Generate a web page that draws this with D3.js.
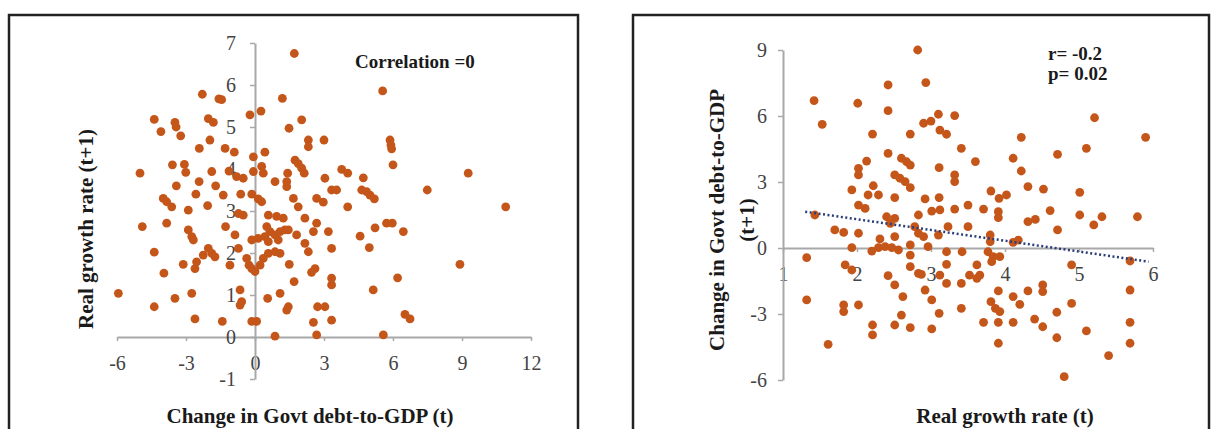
<!DOCTYPE html>
<html>
<head>
<meta charset="utf-8">
<script src="https://cdn.jsdelivr.net/npm/d3@7"></script>
<style>
  html, body { margin: 0; padding: 0; background: #fff; }
  svg { display: block; }
  .tick text { font-family: "Liberation Serif", "Times New Roman", serif; font-size: 20px; fill: #444; }
  .title { font-family: "Liberation Serif", "Times New Roman", serif; font-weight: bold; font-size: 21px; fill: #1a1a1a; }
  .note { font-family: "Liberation Serif", "Times New Roman", serif; font-weight: bold; font-size: 19px; fill: #1a1a1a; }
</style>
</head>
<body>
<svg id="chart" width="1220" height="429"></svg>
<script>
// ---------- Left panel data: change in govt debt-to-GDP (t) vs real growth (t+1)
const leftX = [1.71,-2.29,-1.57,-1.45,1.19,-4.38,-3.48,-3.43,-2.03,-1.81,-0.22,0.26,2.03,1.48,-4.09,-3.23,-1.96,-2.42,-1.30,-0.90,2.32,2.32,3.0,0.43,-0.07,1.74,1.88,-3.59,-3.07,-3.01,-5.0,-1.88,-1.13,-0.80,-0.51,-0.07,0.29,0.36,0.87,1.42,1.38,2.03,2.14,3.04,-3.42,-2.43,-1.71,1.38,3.33,-2.57,-1.38,-0.62,-0.14,0.14,0.29,-3.99,-3.84,-3.62,1.67,1.88,2.68,2.97,-2.9,-2.06,-0.72,-0.51,0.58,0.94,1.23,2.17,2.68,3.19,-4.90,-3.84,-2.90,-2.75,-2.68,-1.28,-0.87,-0.14,0.51,0.65,0.87,1.09,0.43,0.14,0.58,1.01,1.30,1.45,1.81,2.17,2.54,3.33,-4.38,-2.03,-1.88,-1.74,-2.25,-2.54,-3.12,-2.61,-1.09,-0.72,-0.36,-0.26,-0.14,0,0.22,0.36,0.58,0.87,1.09,1.49,2.32,2.61,2.46,-3.96,1.70,-5.94,-3.48,-2.75,-0.65,-0.58,-0.65,0.55,1.09,1.45,1.38,-4.38,-2.61,-1.42,-0.14,0.07,0.87,2.54,2.72,3.04,2.68,3.33,3.33,3.33,5.55,5.87,5.91,5.94,6.0,3.77,4.03,4.71,9.27,3.55,4.64,4.85,5.0,5.19,7.49,4.03,10.9,5.22,5.72,5.97,6.45,4.57,4.97,8.91,6.2,5.14,6.52,6.74,5.58];
const leftY = [6.75,5.78,5.67,5.65,5.68,5.18,5.11,5.0,5.2,5.11,5.29,5.38,5.17,4.97,4.89,4.79,4.69,4.49,4.49,4.40,4.69,4.53,4.69,4.4,4.29,4.21,4.13,4.1,4.11,3.92,3.9,3.94,3.95,3.82,3.78,3.94,4.06,3.90,3.70,3.9,3.70,4.02,3.9,3.78,3.6,3.70,3.60,3.58,3.5,3.40,3.38,3.40,3.40,3.29,3.22,3.30,3.22,3.10,3.30,3.10,3.30,3.21,3.02,3.13,2.94,2.90,2.90,2.87,2.83,2.83,2.71,2.51,2.63,2.71,2.55,2.39,2.31,2.63,2.43,2.31,2.63,2.51,2.43,2.51,2.39,2.35,2.27,2.31,2.55,2.55,2.43,2.23,2.51,2.11,2.02,2.11,1.99,1.91,1.95,1.79,1.73,1.63,1.71,2.11,1.87,1.71,1.63,1.56,1.71,1.87,1.99,2.03,1.99,1.73,2.03,1.63,1.54,1.52,1.32,1.04,0.92,1.04,1.12,0.84,0.76,0.92,1.04,0.72,0.64,0.72,0.43,0.37,0.37,0.37,0.02,0.35,0.72,0.72,0.05,0.40,1.40,1.24,5.86,4.69,4.57,4.48,4.10,3.99,3.90,3.79,3.90,3.5,3.5,3.46,3.38,3.29,3.50,3.10,3.10,2.60,2.71,2.71,2.51,2.40,2.13,1.73,1.41,1.12,0.54,0.43,0.05];
const leftXTicks = [-6, -3, 0, 3, 6, 9, 12];
const leftYTicks = [-1, 0, 1, 2, 3, 4, 5, 6, 7];
const leftXTitle = "Change in Govt debt-to-GDP (t)";
const leftYTitle = "Real growth rate (t+1)";
const leftNote = "Correlation =0";

// ---------- Right panel data: real growth (t) vs change in govt debt-to-GDP (t+1)
const rightX = [2.82,2.93,2.42,1.42,2.01,2.42,1.53,2.21,2.72,2.90,3.00,3.10,3.12,3.21,3.32,3.41,2.42,2.13,2.02,2.02,2.60,2.67,2.72,3.11,2.51,2.58,2.65,2.72,3.32,3.32,1.93,2.22,2.15,2.29,2.51,2.92,3.11,2.02,2.11,1.43,2.83,3.01,3.12,3.32,3.50,2.40,2.45,2.51,1.70,1.82,2.02,2.51,2.78,2.83,2.90,3.10,3.23,3.50,1.93,2.20,2.29,2.38,2.47,2.56,2.31,2.72,2.96,1.32,1.84,1.93,2.72,2.72,2.83,2.87,3.21,3.21,3.42,3.12,3.21,3.41,2.42,2.51,2.92,2.62,3.01,1.32,1.82,1.82,2.02,2.60,3.11,3.41,2.21,2.21,2.51,2.72,3.01,1.61,3.60,3.52,5.21,5.90,4.22,5.10,4.71,4.11,4.22,4.31,4.52,3.81,3.92,4.02,3.71,3.91,3.91,4.61,5.01,5.01,5.20,5.31,5.79,4.31,4.41,4.71,3.80,3.80,4.11,4.18,3.77,3.84,3.93,3.82,3.62,3.66,3.62,4.90,5.69,3.91,4.11,4.20,4.31,4.51,4.51,3.81,3.87,3.93,3.71,3.91,4.11,4.40,4.51,4.70,4.90,5.69,5.69,5.10,4.70,3.91,5.69,5.40,4.80];
const rightY = [9.0,7.52,7.41,6.70,6.58,6.24,5.62,5.18,5.18,5.67,5.77,6.08,5.36,5.17,6.02,4.53,4.30,3.95,3.62,3.32,4.08,3.92,3.77,3.65,3.32,3.17,3.02,2.74,3.32,3.02,2.64,2.83,2.41,2.41,2.29,2.23,2.29,1.95,1.80,1.50,1.50,1.68,1.73,1.77,1.95,1.42,1.12,1.35,0.82,0.71,0.67,0.52,0.97,0.67,0.52,0.59,0.97,0.97,0.02,-0.14,0.02,0.06,0.02,-0.09,0.41,0.14,0.06,-0.44,-0.77,-1.0,-0.32,-0.85,-1.15,-1.2,-0.17,-0.74,-0.17,-1.23,-1.61,-1.61,-1.26,-1.68,-1.91,-2.21,-2.36,-2.36,-2.59,-2.89,-2.59,-3.05,-2.97,-2.74,-3.50,-3.95,-3.5,-3.62,-3.68,-4.38,3.93,-1.23,5.92,5.03,5.03,4.53,4.26,4.08,3.50,2.79,2.68,2.59,2.26,2.41,1.77,1.65,1.38,1.70,2.53,1.50,1.05,1.42,1.42,1.20,1.30,0.82,0.59,0.29,0.26,0.36,-0.17,-0.39,-0.39,-0.62,-0.77,-1.23,-1.38,-0.77,-0.59,-1.95,-2.21,-2.56,-1.95,-1.68,-1.98,-2.44,-2.74,-2.89,-3.38,-3.38,-3.38,-3.23,-3.58,-2.92,-2.52,-1.91,-3.38,-3.77,-4.08,-4.33,-4.33,-4.89,-5.85];
const trendX = [1.30, 5.94];
const trendY = [1.65, -0.62];
const rightXTicks = [1, 2, 3, 4, 5, 6];
const rightYTicks = [-6, -3, 0, 3, 6, 9];
const rightXTitle = "Real growth rate (t)";
const rightYTitle = ["Change in Govt debt-to-GDP", "(t+1)"];
const rightNotes = ["r= -0.2", "p= 0.02"];

// ---------- styles
const dotColor = "#c5561a";
const axisColor = "#a8a8a8";
const frameColor = "#222";
const plainFormat = (d) => String(d);

const svg = d3.select("#chart");

// frames
svg.append("rect").attr("x", 9).attr("y", 15).attr("width", 569).attr("height", 440)
  .attr("fill", "none").attr("stroke", frameColor).attr("stroke-width", 2.5);
svg.append("rect").attr("x", 633).attr("y", 15).attr("width", 576).attr("height", 440)
  .attr("fill", "none").attr("stroke", frameColor).attr("stroke-width", 2.5);

function styleAxis(g) {
  g.select(".domain").attr("stroke", axisColor).attr("stroke-width", 2);
  g.selectAll(".tick line").attr("stroke", axisColor).attr("stroke-width", 1.5);
}

// ---------- Left panel
const xL = d3.scaleLinear().domain([-6, 12]).range([117, 531]);
const yL = d3.scaleLinear().domain([-1, 7]).range([379, 43]);

svg.append("g").attr("transform", `translate(0,${yL(0)})`)
  .call(d3.axisBottom(xL).tickValues(leftXTicks).tickSize(4).tickSizeOuter(0).tickPadding(15).tickFormat(plainFormat))
  .call(styleAxis);
svg.append("g").attr("transform", `translate(${xL(0)},0)`)
  .call(d3.axisLeft(yL).tickValues(leftYTicks).tickSize(5).tickSizeOuter(0).tickPadding(14).tickFormat(plainFormat))
  .call(styleAxis);

svg.append("g").selectAll("circle").data(leftX).join("circle")
  .attr("cx", (d) => xL(d)).attr("cy", (d, i) => yL(leftY[i])).attr("r", 4.4).attr("fill", dotColor);

svg.append("text").attr("class", "title").attr("x", 310).attr("y", 423).attr("text-anchor", "middle").text(leftXTitle);
svg.append("text").attr("class", "title").attr("transform", "translate(93,229) rotate(-90)").attr("text-anchor", "middle").text(leftYTitle);
svg.append("text").attr("class", "note").attr("x", 355).attr("y", 68).text(leftNote);

// ---------- Right panel
const xR = d3.scaleLinear().domain([1, 6]).range([783, 1153]);
const yR = d3.scaleLinear().domain([-6, 9]).range([380, 50]);

svg.append("g").attr("transform", `translate(0,${yR(0)})`)
  .call(d3.axisBottom(xR).tickValues(rightXTicks).tickSize(4).tickSizeOuter(0).tickPadding(15).tickFormat(plainFormat))
  .call(styleAxis);
svg.append("g").attr("transform", `translate(${xR(1)},0)`)
  .call(d3.axisLeft(yR).tickValues(rightYTicks).tickSize(5).tickSizeOuter(0).tickPadding(11).tickFormat(plainFormat))
  .call(styleAxis);

svg.append("g").selectAll("circle").data(rightX).join("circle")
  .attr("cx", (d) => xR(d)).attr("cy", (d, i) => yR(rightY[i])).attr("r", 4.4).attr("fill", dotColor);

const trendLine = d3.line().x((d) => xR(d)).y((d, i) => yR(trendY[i]));
svg.append("path").attr("d", trendLine(trendX)).attr("fill", "none")
  .attr("stroke", "#2b3d78").attr("stroke-width", 2.5).attr("stroke-dasharray", "2,2.5");

svg.append("text").attr("class", "title").attr("x", 1005).attr("y", 423).attr("text-anchor", "middle").text(rightXTitle);
svg.append("text").attr("class", "title").attr("transform", "translate(724,220) rotate(-90)").attr("text-anchor", "middle").text(rightYTitle[0]);
svg.append("text").attr("class", "title").attr("transform", "translate(754,220) rotate(-90)").attr("text-anchor", "middle").text(rightYTitle[1]);
svg.append("text").attr("class", "note").attr("x", 1048).attr("y", 60).text(rightNotes[0]);
svg.append("text").attr("class", "note").attr("x", 1048).attr("y", 80).text(rightNotes[1]);
</script>
</body>
</html>
